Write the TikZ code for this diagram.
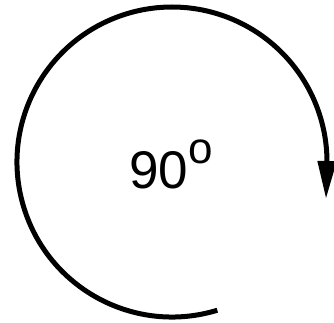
\documentclass[tikz,border=0pt]{standalone}
\usepackage{fontspec}
\setmainfont{Liberation Sans}
\usetikzlibrary{arrows.meta,calc}
\begin{document}
\begin{tikzpicture}[x=1pt,y=1pt,
  rot/.style={line width=5pt,-{Triangle[length=38pt,width=18pt]}},
  lbl/.style={inner sep=0pt,anchor=base west,font=\fontsize{53}{60}\selectfont}]
\useasboundingbox (0,0) rectangle (334,-323);
\coordinate (c) at (172,-162);
\coordinate (s) at ($(c)+(-73:155)$);
\coordinate (e) at ($(c)+(0:154)+(0,-37)$);
\draw[rot] (s) arc[start angle=-73,end angle=-360,radius=155] -- (e);
\node[lbl] (t) at (129,-188) {90\raisebox{25pt}{\fontsize{44}{50}\selectfont o}};
\end{tikzpicture}
\end{document}
